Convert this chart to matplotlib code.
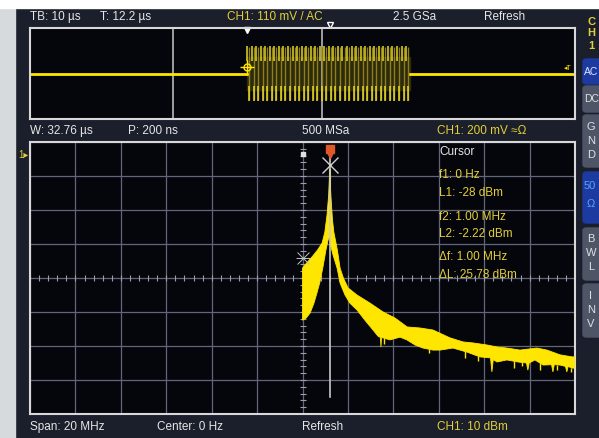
import matplotlib.pyplot as plt
import numpy as np
from matplotlib.patches import Rectangle, FancyBboxPatch

W, H = 599, 438

# spectrum trace, upper / lower edge of the yellow band (MHz, dBm)
up_f = [0.00, 0.15, 0.35, 0.55, 0.72, 0.82, 0.90, 0.96, 1.00, 1.04, 1.10, 1.15, 1.28, 1.38,
        1.50, 1.67, 2.00, 2.48, 2.96, 3.40, 3.84, 4.31, 4.79, 5.41, 5.89, 6.26, 6.77, 7.14,
        7.50, 7.98, 8.60, 8.97, 9.45, 9.89, 10.0]
up_db = [-31.1, -29.6, -27.8, -25.8, -23.7, -20.5, -15.5, -9.6, -2.2, -9.6, -16.9, -20.5,
         -25.8, -31.1, -34.0, -36.9, -39.0, -41.4, -44.0, -45.8, -48.4, -48.7, -49.3, -51.6,
         -52.8, -53.1, -53.7, -54.3, -54.6, -55.2, -54.6, -55.2, -56.6, -57.2, -57.2]
lo_f = [0.00, 0.13, 0.28, 0.42, 0.53, 0.64, 0.75, 0.86, 0.94, 1.00, 1.03, 1.12, 1.27, 1.38,
        1.56, 1.74, 2.00, 2.29, 2.59, 2.77, 2.86, 2.88, 2.90, 3.21, 3.58, 3.83, 4.13, 4.42,
        4.79, 5.05, 5.52, 6.04, 6.51, 6.90, 6.95, 7.00, 7.14, 7.50, 7.91, 8.22, 8.27, 8.32,
        8.53, 8.83, 9.14, 9.19, 9.24, 9.45, 9.65, 9.70, 9.75, 9.89, 10.0]
lo_db = [-46.4, -45.8, -44.3, -41.4, -38.4, -35.2, -30.8, -25.8, -22.8, -21.4, -24.3, -27.2,
         -31.1, -35.5, -39.0, -41.4, -43.4, -46.4, -49.3, -51.1, -51.5, -54.3, -51.5, -52.2,
         -51.4, -52.2, -53.7, -54.6, -55.2, -55.2, -54.6, -55.8, -57.2, -57.5, -61.6, -58.0,
         -58.7, -58.1, -58.7, -59.0, -61.1, -59.0, -58.1, -59.6, -59.5, -61.6, -59.5, -59.6,
         -60.0, -61.6, -60.0, -60.5, -60.5]
# thin noise spikes below the band
spike_f = [3.00, 4.65, 5.95, 6.45, 7.75, 8.05, 8.70, 9.35, 9.85]
spike_db = [-53.5, -56.0, -57.5, -58.5, -60.5, -60.0, -61.0, -61.0, -61.5]

# cursors
f1, L1 = 0.0, -28.0
f2, L2 = 1.00, -2.22

# time domain burst (us)
burst_start, burst_end = 47.8, 83.7
burst_freq = 1.0      # MHz
burst_amp = 2.46      # divisions
win_start, win_width = 31.5, 32.76

bg = '#1b1f2b'
scr = '#05050c'
yel = '#ffe600'
txt_y = '#e2cf3a'
txt_w = '#e6e6e6'
grid_c = '#62667a'


def rect(x, y, w, h):
    return [x / W, 1 - (y + h) / H, w / W, h / H]


def ftext(x, y, s, color=txt_w, size=8.5, **kw):
    fig.text(x / W, 1 - y / H, s, color=color, fontsize=size, va='center',
             family=['Liberation Sans', 'DejaVu Sans'], **kw)


fig = plt.figure(figsize=(W / 100, H / 100), dpi=100)
fig.patch.set_facecolor(bg)
fig.add_artist(Rectangle((0, 0), 15 / W, 1, transform=fig.transFigure, color='#d6dadd'))
fig.add_artist(Rectangle((0, 1 - 8 / H), 1, 8 / H, transform=fig.transFigure, color='white'))

# ---- time domain
ax_t = fig.add_axes(rect(30, 28, 545, 91))
ax_t.set_facecolor(scr)
ax_t.set_xlim(0, 120)
ax_t.set_ylim(-4, 4)
ax_t.set_xticks([])
ax_t.set_yticks([])
for s in ax_t.spines.values():
    s.set_color('#d8d8d8')
    s.set_linewidth(1.5)
ax_t.axvline(win_start, color='#b8b8b8', lw=1.2)
ax_t.axvline(win_start + win_width, color='#b8b8b8', lw=1.2)
ax_t.plot([0, burst_start], [0, 0], color=yel, lw=2)
ax_t.plot([burst_end, 120], [0, 0], color=yel, lw=2)
cyc = np.arange(burst_start, burst_end, 1 / burst_freq)
ax_t.fill_between([burst_start, burst_end], -burst_amp * 0.6, burst_amp * 0.6,
                  color='#2e2a0c')
ax_t.vlines(cyc + 0.45, -burst_amp * 0.95, burst_amp * 0.95, color='#8c7f1c', lw=1.0)
ax_t.vlines(cyc, burst_amp * 0.45, burst_amp, color='#e8d820', lw=1.1)
ax_t.vlines(cyc + 0.45, -burst_amp, -burst_amp * 0.45, color='#e8d820', lw=1.1)
ax_t.plot(burst_start, 0.55, marker='o', ms=5, mfc='none', mec=yel, mew=1)
ax_t.plot(burst_start, 0.55, marker='+', ms=10, color=yel, mew=1)
ax_t.plot(burst_start, 3.85, marker='v', ms=4, color='white', clip_on=False)
ax_t.plot(66.0, 4.3, marker='v', ms=4, mfc='none', mec='white', clip_on=False)

# ---- spectrum
ax = fig.add_axes(rect(30, 142, 545, 272))
ax.set_facecolor(scr)
ax.set_xlim(-10, 10)
ax.set_ylim(-74, 6)
ax.set_xticks(np.linspace(-10, 10, 13))
ax.set_yticks(np.arange(-74, 7, 10))
ax.grid(True, color=grid_c, lw=0.9)
ax.tick_params(length=0, labelbottom=False, labelleft=False)
for s in ax.spines.values():
    s.set_color('#d8d8d8')
    s.set_linewidth(1.5)
# center axes with minor ticks
ax.plot(np.zeros(41), np.arange(-74, 7, 2), ls='none', marker='_', ms=5, color='#9a9ea8', mew=0.8)
ax.plot(np.arange(-10, 10.01, 20 / 60), np.full(61, -34), ls='none', marker='|', ms=4,
        color='#9a9ea8', mew=0.8)

poly_f = np.concatenate([up_f, lo_f[::-1]])
poly_db = np.concatenate([up_db, lo_db[::-1]])
ax.fill(poly_f, poly_db, color=yel, lw=0.6, ec=yel, zorder=3)
ax.vlines(spike_f, spike_db, np.interp(spike_f, lo_f, lo_db), color=yel, lw=1, zorder=3)
ax.plot([f2, f2], [-2.2, -12], color=yel, lw=1.5, zorder=3)

# cursor graphics
ax.plot([f2, f2], [2.2, -69], color='#c8c8c8', lw=1.2, zorder=4)
ax.plot(f2, -0.8, marker='x', ms=11, color='#d0d0d0', mew=1, zorder=5)
ax.plot(f2, 4.0, marker='s', ms=6, color='#e0582a', zorder=5, clip_on=False)
ax.plot(f2, 2.2, marker='v', ms=4, color='#e0582a', zorder=5)
ax.plot(f1, L1, marker='x', ms=8, color='#c0c0c0', mew=0.7, zorder=5)
ax.plot(f1, L1, marker='_', ms=10, color='#c0c0c0', mew=0.7, zorder=5)
ax.plot(f1, 2.5, marker='s', ms=3, color='#e0e0e0', zorder=5)

# header texts
ftext(30, 17, 'TB: 10 µs')
ftext(100, 17, 'T: 12.2 µs')
ftext(227, 17, 'CH1: 110 mV / AC', color=txt_y)
ftext(393, 17, '2.5 GSa')
ftext(484, 17, 'Refresh')
ftext(30, 131, 'W: 32.76 µs')
ftext(128, 131, 'P: 200 ns')
ftext(302, 131, '500 MSa')
ftext(437, 131, 'CH1: 200 mV ≈Ω', color=txt_y)
ftext(30, 427, 'Span: 20 MHz')
ftext(157, 427, 'Center: 0 Hz')
ftext(302, 427, 'Refresh')
ftext(437, 427, 'CH1: 10 dBm', color=txt_y)
ftext(564, 69, '◂T', color=yel, size=5)
ftext(18, 155, '1▸', color=txt_y, size=7)

# cursor readout
ftext(439, 152, 'Cursor')
for yy, s in [(175, 'f1: 0 Hz'), (193, 'L1: -28 dBm'), (217, 'f2: 1.00 MHz'),
              (234, 'L2: -2.22 dBm'), (257, 'Δf: 1.00 MHz'), (275, 'ΔL: 25.78 dBm')]:
    ftext(439, yy, s, color=txt_y)

# right side buttons
for y0, h, c in [(59, 25, '#1c3aa0'), (86, 26, '#4e5566'), (115, 52, '#4e5566'),
                 (172, 51, '#1c3aa0'), (228, 52, '#4e5566'), (284, 53, '#4e5566')]:
    fig.add_artist(FancyBboxPatch((583 / W, 1 - (y0 + h) / H), 20 / W, h / H,
                                  boxstyle='round,pad=0,rounding_size=0.006',
                                  transform=fig.transFigure, color=c))
for yy, s in [(22, 'C'), (33, 'H'), (46, '1')]:
    ftext(591, yy, s, color=txt_y, size=8, ha='center', weight='bold')
ftext(584, 72, 'AC', color='#dde4ff', size=7.5)
ftext(584, 99, 'DC', color='#e0e0e0', size=7.5)
for yy, s in [(127, 'G'), (141, 'N'), (155, 'D'), (239, 'B'), (253, 'W'), (267, 'L'),
              (296, 'I'), (310, 'N'), (324, 'V')]:
    ftext(591, yy, s, color='#e0e0e0', size=8, ha='center')
ftext(584, 186, '50', color='#5aa0ff', size=8)
ftext(591, 204, 'Ω', color='#5aa0ff', size=8, ha='center')

fig.savefig('out.png', dpi=100, facecolor=fig.get_facecolor())
